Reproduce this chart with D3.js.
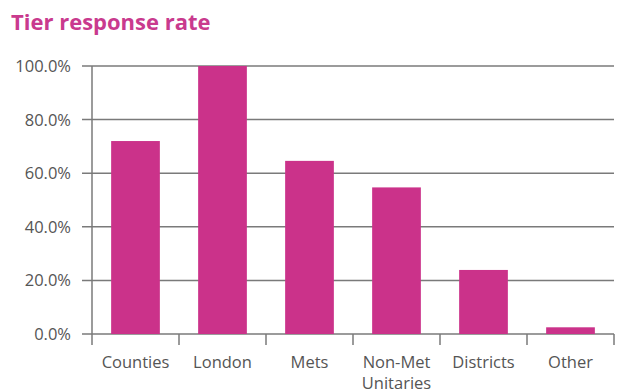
<!DOCTYPE html>
<html>
<head>
<meta charset="utf-8">
<script src="https://cdn.jsdelivr.net/npm/d3@7"></script>
<style>
  body { margin: 0; background: #fff; }
  text { font-family: "Open Sans", sans-serif; }
</style>
</head>
<body>
<svg id="chart" width="620" height="391"></svg>
<script>
// chart data
var categories = ["Counties", "London", "Mets", "Non-Met Unitaries", "Districts", "Other"];
var rates = [72.0, 100.0, 64.6, 54.7, 23.9, 2.5];
var yTicks = [0, 20, 40, 60, 80, 100];

var svg = d3.select("#chart");
var margin = { left: 92, right: 6, top: 66, bottom: 57 };
var width = 620 - margin.left - margin.right;
var height = 391 - margin.top - margin.bottom;

var pink = "#cb328a";
var gridColor = "#7a7a7a";
var labelColor = "#555";

svg.append("text")
    .attr("x", 11).attr("y", 30)
    .attr("fill", "#c93a8e")
    .attr("font-size", "22px")
    .attr("font-weight", "bold")
    .text("Tier response rate");

var g = svg.append("g")
    .attr("transform", "translate(" + margin.left + "," + margin.top + ")");

var x = d3.scaleBand()
    .domain(categories)
    .range([0, width])
    .paddingInner(0.44)
    .paddingOuter(0.22);

var y = d3.scaleLinear()
    .domain([0, 100])
    .range([height, 0]);

// gridlines
g.selectAll(".grid")
    .data(yTicks)
    .enter().append("line")
    .attr("class", "grid")
    .attr("x1", -10).attr("x2", width)
    .attr("y1", function(d) { return y(d); })
    .attr("y2", function(d) { return y(d); })
    .attr("stroke", gridColor)
    .attr("stroke-width", 1.5);

// y axis labels
g.selectAll(".ylab")
    .data(yTicks)
    .enter().append("text")
    .attr("x", -21)
    .attr("y", function(d) { return y(d); })
    .attr("dy", "0.36em")
    .attr("text-anchor", "end")
    .attr("fill", labelColor)
    .attr("font-size", "16.5px")
    .text(function(d) { return d.toFixed(1) + "%"; });

// bars
g.selectAll(".bar")
    .data(rates)
    .enter().append("rect")
    .attr("class", "bar")
    .attr("x", function(d, i) { return x(categories[i]); })
    .attr("width", x.bandwidth())
    .attr("y", function(d) { return y(d); })
    .attr("height", function(d) { return height - y(d); })
    .attr("fill", pink);

// y axis line
g.append("line")
    .attr("x1", 0).attr("x2", 0)
    .attr("y1", 0).attr("y2", height)
    .attr("stroke", gridColor)
    .attr("stroke-width", 1.5);

// category separator ticks
var tickPos = d3.range(categories.length + 1).map(function(i) { return i * width / categories.length; });
g.selectAll(".xtick")
    .data(tickPos)
    .enter().append("line")
    .attr("x1", function(d) { return d; })
    .attr("x2", function(d) { return d; })
    .attr("y1", height).attr("y2", height + 11)
    .attr("stroke", gridColor)
    .attr("stroke-width", 1.5);

// category labels (wrap the long one onto two lines)
var xl = g.selectAll(".xlab")
    .data(categories)
    .enter().append("text")
    .attr("class", "xlab")
    .attr("text-anchor", "middle")
    .attr("fill", labelColor)
    .attr("font-size", "16.5px")
    .attr("transform", function(d) {
        return "translate(" + (x(d) + x.bandwidth() / 2) + "," + (height + 34) + ")";
    });

xl.each(function(d) {
    var words = d === "Non-Met Unitaries" ? d.split(" ") : [d];
    var t = d3.select(this);
    words.forEach(function(w, i) {
        t.append("tspan").attr("x", 0).attr("dy", i === 0 ? 0 : "1.25em").text(w);
    });
});
</script>
</body>
</html>
